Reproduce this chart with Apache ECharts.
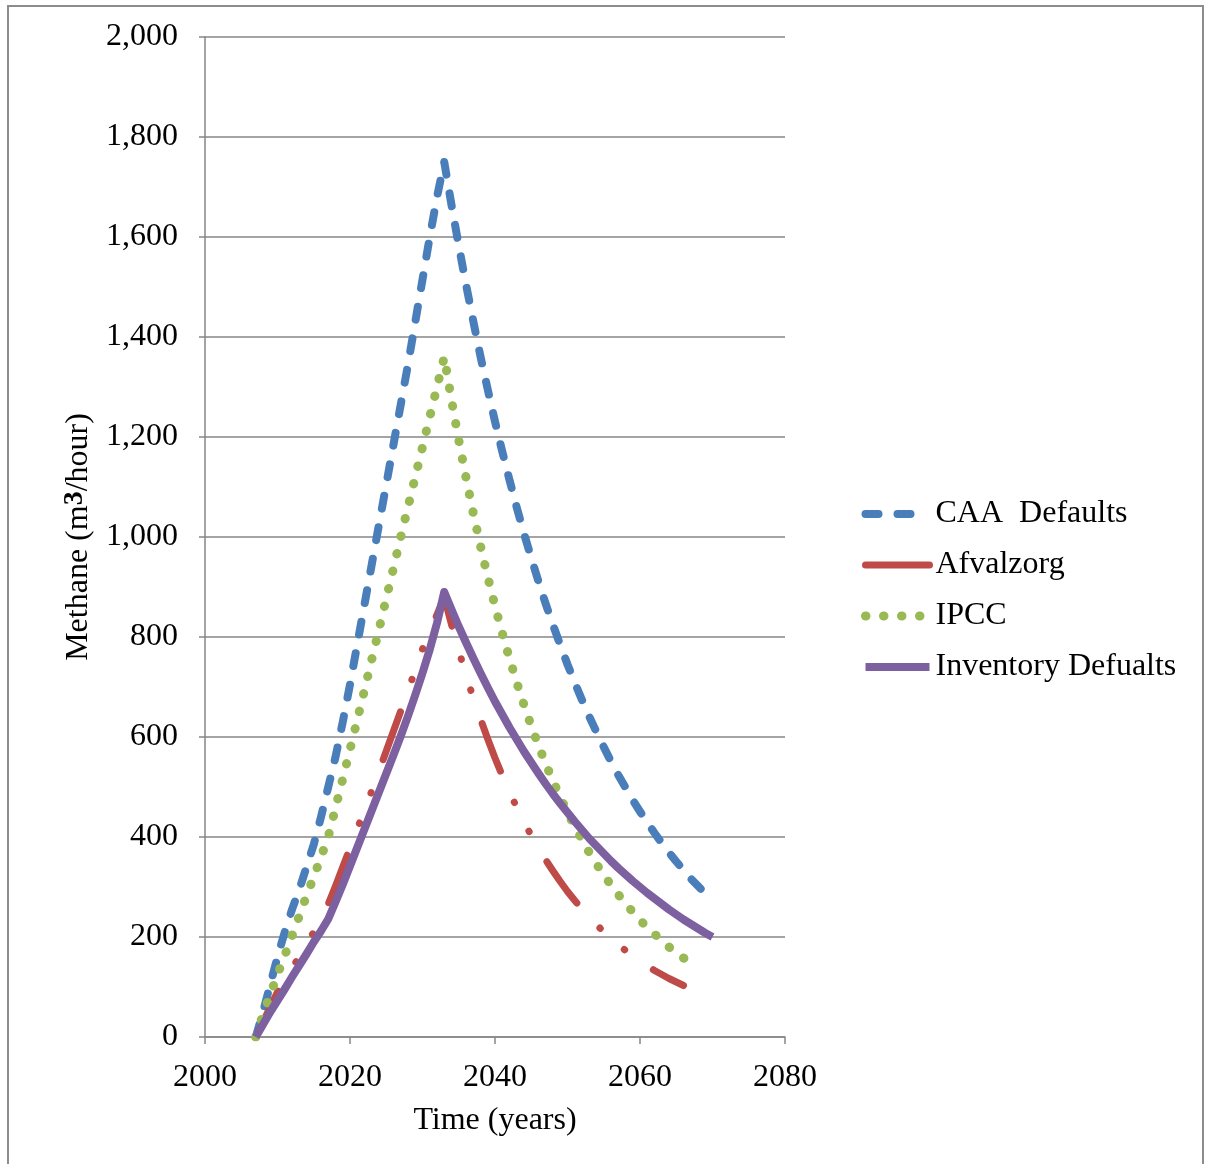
<!DOCTYPE html>
<html>
<head>
<meta charset="utf-8">
<script src="https://cdn.jsdelivr.net/npm/echarts@6/dist/echarts.min.js"></script>
<style>
html,body{margin:0;padding:0;background:#fff;}
#chart{width:1208px;height:1164px;}
</style>
</head>
<body>
<div id="chart"></div>
<script>
// ---- data ----
const seriesNames = ['CAA  Defaults', 'Afvalzorg', 'IPCC', 'Inventory Defualts'];
const startYear = 2007;
const xTicks = [2000, 2020, 2040, 2060, 2080];
const yTicks = [0, 200, 400, 600, 800, 1000, 1200, 1400, 1600, 1800, 2000];

// annual values, starting at 2007
const caaDefaults = [
  0, 50, 105, 160, 210, 255, 295, 340, 385, 440,
  500, 560, 630, 705, 785, 865, 945, 1025, 1105, 1185,
  1265, 1345, 1430, 1515, 1600, 1680, 1750,
  1664, 1583, 1505, 1432, 1361, 1295, 1231, 1171, 1114, 1059,
  1007, 958, 911, 866, 824, 784, 745, 709, 674, 641,
  610, 580, 551, 524, 499, 474, 451, 429, 408, 388,
  369, 351, 334, 317, 302, 287
];
const afvalzorg = [
  0, 30, 60, 90, 115, 138, 160, 185, 210, 238,
  266, 302, 340, 378, 416, 454, 492, 532, 572, 612,
  652, 692, 734, 776, 810, 845, 880,
  825, 773, 724, 678, 636, 596, 558, 523, 490, 459,
  430, 403, 378, 354, 332, 311, 291, 273, 256, 240,
  225, 210, 197, 185, 173, 162, 152, 142, 133, 125,
  117, 110, 103
];
const ipcc = [
  0, 45, 85, 125, 163, 202, 242, 282, 320, 360,
  400, 458, 516, 575, 634, 694, 755, 815, 877, 938,
  1000, 1060, 1120, 1180, 1240, 1300, 1360,
  1274, 1194, 1119, 1048, 982, 920, 862, 808, 757, 709,
  664, 622, 583, 546, 512, 480, 449, 421, 394, 369,
  346, 324, 304, 285, 267, 250, 234, 219, 206, 193,
  180, 169, 158, 148, 139
];
const inventoryDefaults = [
  0, 25, 50, 73, 96, 120, 143, 166, 190, 212,
  236, 270, 305, 342, 379, 416, 453, 490, 527, 564,
  602, 642, 684, 728, 775, 828, 890,
  855, 821, 789, 758, 728, 699, 671, 645, 619, 595,
  571, 549, 527, 506, 486, 467, 449, 431, 414, 397,
  382, 367, 352, 338, 325, 312, 300, 288, 277, 266,
  255, 245, 235, 226, 217, 208, 200
];

function pairs(vals) {
  return vals.map((v, i) => [startYear + i, v]);
}

const FONT = "'Liberation Serif', 'Times New Roman', serif";
const FS = 32;
const colors = ['#4A7EBB', '#BE4B48', '#98B954', '#7D60A0'];

const chart = echarts.init(document.getElementById('chart'), null, {renderer: 'canvas'});

const option = {
  animation: false,
  backgroundColor: '#ffffff',
  textStyle: {fontFamily: FONT, color: '#000'},
  graphic: [{
    type: 'rect',
    shape: {x: 8, y: 6, width: 1195, height: 1200},
    style: {fill: 'none', stroke: '#8c8c8c', lineWidth: 2},
    silent: true
  }],
  grid: {left: 205, right: 423, top: 37, bottom: 127, containLabel: false},
  xAxis: {
    type: 'value',
    min: xTicks[0], max: xTicks[xTicks.length - 1], interval: 20,
    name: 'Time (years)',
    nameLocation: 'middle',
    nameGap: 68,
    nameTextStyle: {fontFamily: FONT, fontSize: FS, color: '#000'},
    axisLine: {show: true, lineStyle: {color: '#868686', width: 1.5}},
    axisTick: {show: true, inside: false, length: 7, lineStyle: {color: '#868686', width: 1.5}},
    axisLabel: {fontFamily: FONT, fontSize: FS, color: '#000', margin: 25,
      formatter: v => String(v)},
    splitLine: {show: false}
  },
  yAxis: {
    type: 'value',
    min: yTicks[0], max: yTicks[yTicks.length - 1], interval: 200,
    name: 'Methane (m{sup|3}/hour)',
    nameLocation: 'middle',
    nameRotate: 90,
    nameGap: 108,
    nameTextStyle: {
      fontFamily: FONT, fontSize: FS, color: '#000',
      rich: {sup: {fontFamily: FONT, fontSize: 28, fontWeight: 'bold', color: '#000', verticalAlign: 'top', padding: [0, 0, 8, 0]}}
    },
    axisLine: {show: true, lineStyle: {color: '#868686', width: 1.5}},
    axisTick: {show: true, inside: false, length: 6, lineStyle: {color: '#868686', width: 1.5}},
    axisLabel: {fontFamily: FONT, fontSize: FS, color: '#000', margin: 27,
      formatter: v => v.toLocaleString('en-US')},
    splitLine: {show: true, lineStyle: {color: '#868686', width: 1.5}}
  },
  legend: {
    orient: 'vertical',
    left: 856,
    top: 493,
    itemWidth: 64,
    itemHeight: 20,
    itemGap: 19,
    itemStyle: {opacity: 0, borderWidth: 0},
    lineStyle: {width: 'inherit'},
    textStyle: {fontFamily: FONT, fontSize: FS, color: '#000', lineHeight: 30, padding: [0, 0, 0, 1]},
    data: [
      {name: seriesNames[0]},
      {name: seriesNames[1], lineStyle: {type: 'solid'}},
      {name: seriesNames[2]},
      {name: seriesNames[3]}
    ]
  },
  series: [
    {
      name: seriesNames[0], type: 'line', data: pairs(caaDefaults),
      showSymbol: false, symbol: 'none', color: colors[0],
      lineStyle: {color: colors[0], width: 8, type: [13, 19], cap: 'round', join: 'round'}
    },
    {
      name: seriesNames[1], type: 'line', data: pairs(afvalzorg),
      showSymbol: false, symbol: 'none', color: colors[1],
      lineStyle: {color: colors[1], width: 7, type: [51, 34, 0.5, 32, 0.5, 35], cap: 'round', join: 'round'}
    },
    {
      name: seriesNames[2], type: 'line', data: pairs(ipcc),
      showSymbol: false, symbol: 'none', color: colors[2],
      lineStyle: {color: colors[2], width: 9, type: [0.5, 17.5], cap: 'round', join: 'round'}
    },
    {
      name: seriesNames[3], type: 'line', data: pairs(inventoryDefaults),
      showSymbol: false, symbol: 'none', color: colors[3],
      lineStyle: {color: colors[3], width: 8, type: 'solid', cap: 'butt', join: 'round'}
    }
  ]
};
chart.setOption(option);
</script>
</body>
</html>
